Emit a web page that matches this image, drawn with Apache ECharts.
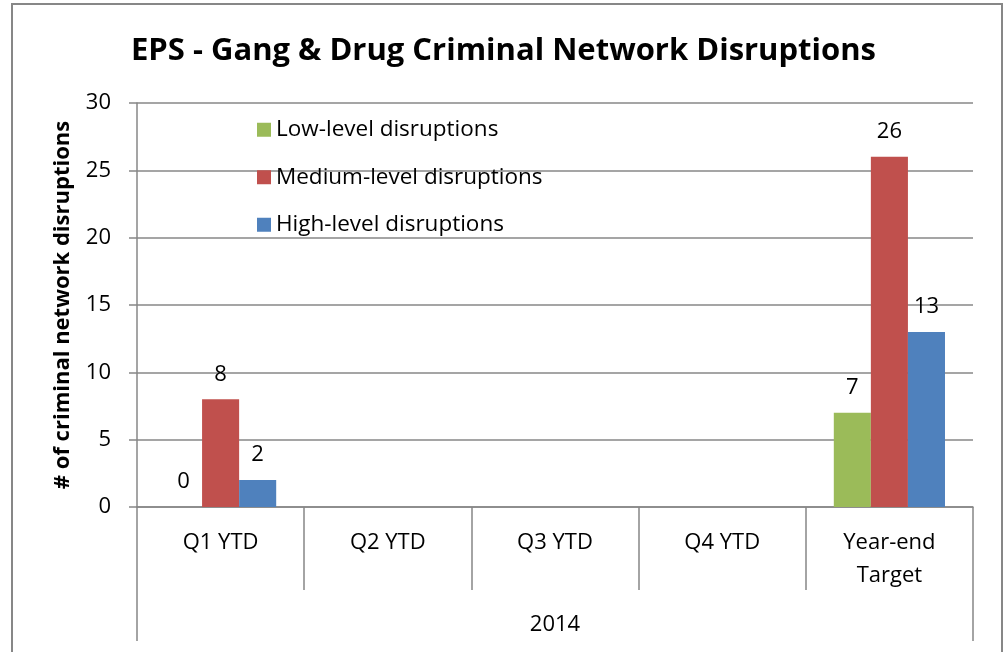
<!DOCTYPE html>
<html><head><meta charset="utf-8">
<script src="https://cdn.jsdelivr.net/npm/echarts@6/dist/echarts.min.js"></script>
<style>html,body{margin:0;padding:0;background:#fff}#c{width:1007px;height:652px}</style>
</head><body><div id="c"></div>
<script>
var categories = ['Q1 YTD', 'Q2 YTD', 'Q3 YTD', 'Q4 YTD', 'Year-end\nTarget'];
var groupLabels = ['2014'];
var lowLevel = [0, null, null, null, 7];
var mediumLevel = [8, null, null, null, 26];
var highLevel = [2, null, null, null, 13];
var seriesNames = ['Low-level disruptions', 'Medium-level disruptions', 'High-level disruptions'];
var titleText = 'EPS - Gang & Drug Criminal Network Disruptions';
var yAxisName = '# of criminal network disruptions';

var FONT = 'Open Sans';
var GRAY = '#878787';
var chart = echarts.init(document.getElementById('c'), null, {renderer: 'canvas'});
function mk(name, data, color) {
  return {
    name: name, type: 'bar', data: data, xAxisIndex: 0,
    barGap: '0%', barCategoryGap: '33.5%',
    itemStyle: {color: color},
    label: {show: true, position: 'top', distance: 14, color: '#000', fontFamily: FONT, fontSize: 22}
  };
}
chart.setOption({
  animation: false,
  title: {text: titleText, left: 'center', top: 31,
    textStyle: {fontFamily: FONT, fontWeight: 'bold', fontSize: 31, color: '#000'}},
  graphic: [{type: 'rect', shape: {x: 12, y: 4, width: 990, height: 660},
    style: {fill: 'none', stroke: GRAY, lineWidth: 2}, silent: true}],
  legend: {orient: 'vertical', left: 252, top: 113, itemWidth: 14, itemHeight: 14, itemGap: 24,
    icon: 'rect', textStyle: {fontFamily: FONT, fontSize: 22.5, lineHeight: 23.5, color: '#000'},
    data: seriesNames},
  grid: {left: 137, right: 34, top: 103, bottom: 145, containLabel: false},
  xAxis: [{
    type: 'category', data: categories, position: 'bottom',
    axisLine: {lineStyle: {color: GRAY, width: 1.5}},
    axisTick: {show: true, interval: 0, length: 83, lineStyle: {color: GRAY, width: 1.5}},
    axisLabel: {interval: 0, margin: 19, fontFamily: FONT, fontSize: 22, color: '#000', lineHeight: 33}
  }, {
    type: 'category', data: groupLabels, position: 'bottom',
    axisLine: {show: false},
    axisTick: {show: true, length: 134, lineStyle: {color: GRAY, width: 1.5}},
    axisLabel: {margin: 107, fontFamily: FONT, fontSize: 22, color: '#000'}
  }],
  yAxis: {
    type: 'value', min: 0, max: 30, interval: 5,
    name: yAxisName, nameLocation: 'middle', nameGap: 63,
    nameTextStyle: {fontFamily: FONT, fontWeight: 'bold', fontSize: 22, color: '#000'},
    axisLine: {show: true, lineStyle: {color: GRAY, width: 1.5}},
    axisTick: {show: true, length: 8, lineStyle: {color: GRAY, width: 1.5}},
    axisLabel: {margin: 26, fontFamily: FONT, fontSize: 22, color: '#000'},
    splitLine: {lineStyle: {color: GRAY, width: 1.5}}
  },
  series: [
    mk(seriesNames[0], lowLevel, '#9BBB59'),
    mk(seriesNames[1], mediumLevel, '#C0504D'),
    mk(seriesNames[2], highLevel, '#4F81BD')
  ]
});
</script></body></html>
